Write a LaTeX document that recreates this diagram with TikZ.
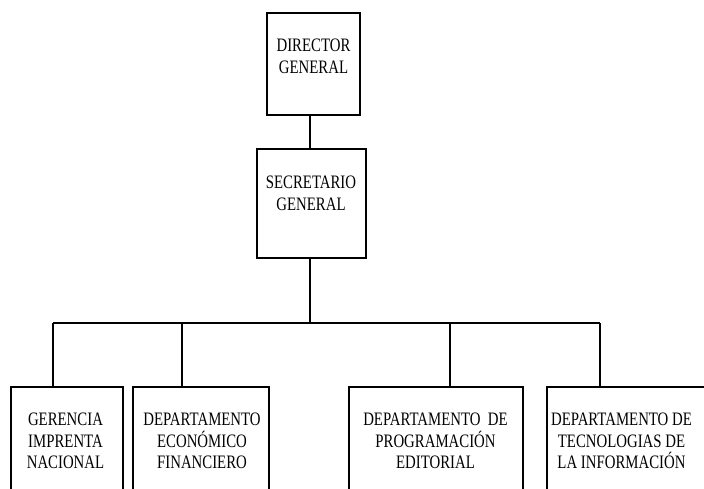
\documentclass[tikz,border=0pt]{standalone}
\usepackage{fontspec}
\setmainfont[FakeStretch=0.78]{Liberation Serif}
\usetikzlibrary{positioning}

\tikzset{
  box/.style={draw, line width=1.7pt, inner sep=0pt},
  dept/.style={box, minimum height=140pt, anchor=north},
  lbl/.style={anchor=north, align=center, inner sep=0pt, font=\fontsize{19}{21.5}\selectfont},
  link/.style={line width=1.7pt}
}

\begin{document}
\begin{tikzpicture}[x=1pt,y=-1pt]
  \clip (0,0) rectangle (704,489);
  % top boxes
  \node[box, minimum width=93pt, minimum height=102pt] (dir) at (313.5,64) {};
  \node[lbl] (dirtxt) at (313.5,39) {DIRECTOR\\GENERAL};
  \node[box, minimum width=109pt, minimum height=109pt] (sec) at (311.5,203.5) {};
  \node[lbl] (sectxt) at (311,176) {SECRETARIO\\GENERAL};
  % trunk down to the bus
  \coordinate (trunk) at (310,323);
  \draw[link] (dir.south -| trunk) -- (sec.north -| trunk);
  \draw[link] (sec.south -| trunk) -- (trunk);
  \coordinate (busL) at (53,323);
  \coordinate (busR) at (600,323);
  \draw[link] (busL) -- (busR);
  % departments
  \node[dept, minimum width=112pt] (ger) at (67,386) {};
  \node[lbl] (gertxt) at (65.5,413) {GERENCIA\\IMPRENTA\\NACIONAL};
  \node[dept, minimum width=136pt] (eco) at (201,386) {};
  \node[lbl] (ecotxt) at (202,413) {DEPARTAMENTO\\ECONÓMICO\\FINANCIERO};
  \node[dept, minimum width=174pt] (pro) at (436,386) {};
  \node[lbl] (protxt) at (435.5,413) {DEPARTAMENTO\ \ DE\\PROGRAMACIÓN\\EDITORIAL};
  \node[dept, minimum width=170pt] (tec) at (632,386) {};
  \node[lbl] (tectxt) at (621.5,413) {DEPARTAMENTO DE\\TECNOLOGIAS DE\\LA INFORMACIÓN};
  % drops from the bus
  \coordinate (gerdrop) at (53,323);
  \coordinate (ecodrop) at (182,323);
  \coordinate (prodrop) at (450,323);
  \coordinate (tecdrop) at (600,323);
  \foreach \d in {ger,eco,pro,tec}
    \draw[link] (\d drop) -- (\d drop |- \d.north);
\end{tikzpicture}
\end{document}
